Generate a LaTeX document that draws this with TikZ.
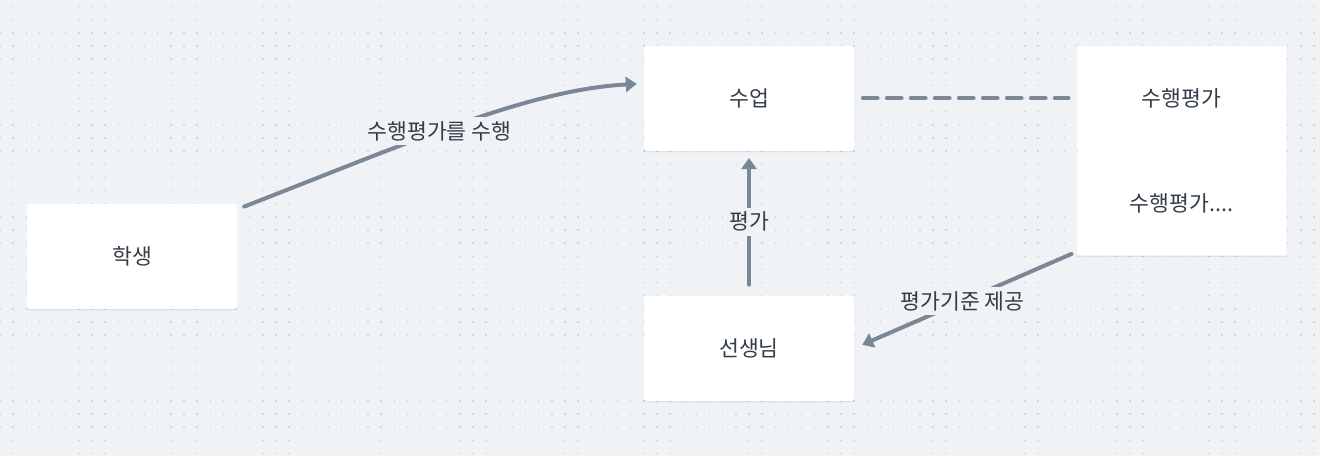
\documentclass[tikz,border=0pt]{standalone}
\usepackage{fontspec}
\setmainfont{Noto Sans CJK KR}
\usetikzlibrary{arrows.meta,shadows}
\definecolor{bg}{HTML}{F0F3F6}
\definecolor{dotc}{HTML}{D0D7E0}
\definecolor{edgec}{HTML}{7A8896}
\definecolor{txt}{HTML}{333C48}
\tikzset{
  box/.style={fill=white, rounded corners=2.5pt, minimum width=210pt, minimum height=105pt,
    inner sep=0pt, font=\fontsize{21.6}{26}\selectfont, text=txt,
    drop shadow={shadow xshift=0pt, shadow yshift=-1.5pt, opacity=0.07, fill=black}},
  conn/.style={draw=edgec, line width=4pt, line cap=round, -{Triangle[length=11pt,width=15pt]}},
  dashconn/.style={draw=edgec, line width=4pt, line cap=round, dash pattern=on 14.7pt off 9.3pt},
  lbl/.style={fill=bg, inner sep=4pt, font=\fontsize{21.6}{26}\selectfont, text=txt},
}
\begin{document}
\begin{tikzpicture}[x=1pt,y=-1pt]
  \fill[bg] (0,0) rectangle (1320,456);
  \useasboundingbox (0,0) rectangle (1320,456);
  \foreach \i in {0,...,100}{
    \foreach \j in {0,...,34}{
      \fill[dotc] ({\i*13.14-0.7},{\j*13.14+6.6-0.7}) rectangle ++(1.4,1.4);
    }
  }
  \node[box] (s) at (132,256.3) {학생};
  \node[box] (u) at (749,98.3) {수업};
  \node[box] (p1) at (1181.7,98.3) {수행평가};
  \node[box] (p2) at (1181.7,203.2) {수행평가....};
  \node[box] (t) at (749,348.3) {선생님};

  \draw[conn] ([shift={(7,3)}]s.north east) .. controls (420,138) and (530,90) .. ([shift={(-7,-14.5)}]u.west)
    node[lbl, pos=0.43] {수행평가를 수행};
  \draw[dashconn, shorten <=8.7pt, shorten >=8pt] (u.east) -- (p1.west);
  \draw[conn, shorten <=11pt, shorten >=7pt] (t.north) -- (u.south)
    node[lbl, pos=0.51] {평가};
  \draw[conn] ([shift={(-5,-2)}]p2.south west) -- ([shift={(8,-3.5)}]t.east)
    node[lbl, pos=0.52] {평가기준 제공};
\end{tikzpicture}
\end{document}
